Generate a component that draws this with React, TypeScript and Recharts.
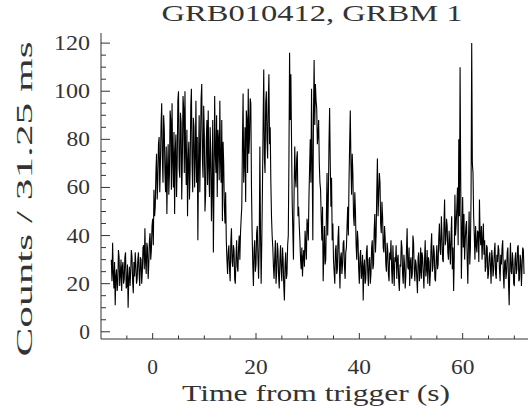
import { Line, LineChart, XAxis, YAxis } from 'recharts';

// GRBM light curve, 0.125 s bins starting at t = -8 s
const START_TIME = -8;
const BIN_WIDTH = 0.125;

const counts: number[] = [
  // -8.0 .. -3.125
  30, 21, 37, 24, 18, 29, 11, 23, 26, 17, 20, 34, 31, 19, 24, 30, 17, 27, 29, 20,
  22, 31, 33, 18, 19, 28, 10, 22, 27, 19, 25, 34, 31, 21, 16, 29, 23, 33, 28, 20,
  // -3.0 .. 1.875
  22, 30, 33, 24, 19, 31, 30, 20, 25, 35, 36, 26, 43, 29, 24, 37, 35, 22, 28, 38,
  41, 30, 34, 44, 47, 36, 59, 48, 52, 66, 74, 55, 63, 78, 81, 58, 70, 86, 95, 72,
  // 2.0 .. 6.875
  62, 90, 84, 66, 58, 77, 49, 68, 78, 57, 66, 92, 88, 59, 95, 71, 60, 83, 49, 75,
  82, 56, 70, 96, 100, 68, 64, 91, 87, 55, 72, 98, 93, 66, 100, 74, 61, 84, 48, 71,
  // 7.0 .. 11.875
  79, 55, 67, 94, 101, 70, 58, 89, 85, 60, 73, 96, 62, 81, 38, 70, 90, 58, 76, 97,
  103, 72, 64, 94, 82, 50, 57, 79, 88, 61, 92, 68, 56, 85, 74, 46, 60, 88, 33, 62,
  // 12.0 .. 16.875
  98, 74, 66, 90, 56, 84, 80, 63, 96, 71, 62, 88, 46, 79, 70, 52, 45, 58, 38, 30,
  24, 33, 36, 26, 21, 37, 43, 29, 27, 36, 34, 22, 20, 31, 38, 27, 25, 35, 40, 30,
  // 17.0 .. 21.875
  41, 47, 52, 78, 99, 62, 70, 85, 54, 92, 88, 66, 101, 74, 81, 97, 95, 60, 41, 28,
  19, 34, 38, 25, 28, 41, 44, 31, 22, 36, 77, 40, 20, 38, 60, 86, 109, 72, 66, 95,
  // 22.0 .. 26.875
  100, 80, 72, 96, 107, 78, 85, 62, 48, 40, 35, 27, 22, 31, 38, 20, 25, 37, 34, 23,
  18, 30, 36, 26, 21, 35, 30, 19, 13, 28, 33, 22, 24, 36, 40, 72, 116, 88, 107, 80,
  // 27.0 .. 31.875
  55, 42, 30, 58, 77, 64, 60, 72, 75, 48, 52, 44, 38, 30, 26, 35, 23, 31, 34, 27,
  42, 36, 30, 47, 44, 38, 56, 68, 80, 62, 101, 70, 38, 90, 113, 86, 103, 96, 93, 78,
  // 32.0 .. 36.875
  82, 88, 70, 62, 59, 47, 38, 52, 21, 33, 44, 28, 30, 48, 66, 40, 55, 78, 93, 70,
  52, 64, 38, 45, 30, 25, 20, 34, 36, 24, 26, 39, 44, 29, 18, 31, 33, 24, 28, 37,
  // 37.0 .. 41.875
  38, 27, 22, 33, 35, 44, 52, 40, 62, 78, 92, 70, 57, 74, 66, 48, 44, 58, 50, 36,
  30, 42, 38, 26, 20, 31, 34, 22, 25, 32, 13, 27, 30, 20, 22, 33, 36, 25, 19, 30,
  // 42.0 .. 46.875
  31, 20, 24, 35, 38, 26, 28, 42, 49, 33, 40, 58, 72, 48, 57, 66, 62, 45, 41, 54,
  48, 35, 33, 44, 39, 28, 25, 37, 34, 24, 21, 33, 30, 38, 26, 20, 36, 27, 19, 31,
  // 47.0 .. 51.875
  29, 36, 22, 30, 32, 21, 17, 28, 27, 38, 35, 24, 20, 32, 28, 18, 23, 34, 43, 27,
  26, 35, 19, 29, 31, 22, 24, 40, 37, 26, 21, 30, 28, 22, 16, 31, 33, 21, 25, 35,
  // 52.0 .. 56.875
  22, 33, 31, 24, 18, 30, 38, 23, 26, 34, 20, 31, 29, 19, 24, 35, 41, 25, 27, 36,
  33, 22, 21, 30, 36, 26, 28, 39, 45, 34, 32, 48, 40, 30, 29, 44, 55, 36, 38, 47,
  // 57.0 .. 61.875
  44, 33, 30, 42, 36, 28, 40, 48, 26, 35, 17, 31, 57, 40, 45, 52, 60, 36, 80, 48,
  110, 62, 22, 40, 56, 35, 49, 30, 38, 44, 46, 30, 20, 38, 50, 28, 35, 56, 120, 70,
  // 62.0 .. 66.875
  66, 48, 40, 30, 44, 36, 33, 42, 41, 29, 55, 40, 36, 44, 30, 38, 45, 32, 38, 25,
  27, 36, 35, 22, 24, 31, 33, 27, 20, 34, 31, 23, 26, 33, 37, 24, 22, 32, 29, 36,
  // 67.0 .. 71.875
  34, 26, 21, 32, 28, 35, 38, 24, 18, 29, 30, 22, 25, 33, 35, 20, 11, 28, 37, 25,
  24, 33, 29, 20, 19, 30, 33, 24, 26, 35, 36, 21, 22, 32, 30, 19, 27, 35, 34, 24,
];

const xTicks = [-5, 0, 5, 10, 15, 20, 25, 30, 35, 40, 45, 50, 55, 60, 65, 70];
const xLabels = [0, 20, 40, 60];
const yTicks = [0, 5, 10, 15, 20, 25, 30, 35, 40, 45, 50, 55, 60, 65, 70, 75, 80, 85, 90, 95, 100, 105, 110, 115, 120];
const yLabels = [0, 20, 40, 60, 80, 100, 120];

const TITLE = 'GRB010412, GRBM 1';
const X_TITLE = 'Time from trigger (s)';
const Y_TITLE = 'Counts / 31.25 ms';

const data = counts.map((c, i) => ({ t: START_TIME + i * BIN_WIDTH, c }));

const FONT = '"Liberation Serif", serif';
const INK = '#333';
const AXIS = '#333';
const DIGIT_W = 12.7;

const W = 545;
const H = 413;
const LEFT = 101;
const TOP = 33;
const BOTTOM = 339;
const RIGHT = 535;

const BottomTick = (props: any) => {
  const { x, payload } = props;
  const major = xLabels.includes(payload.value);
  const label = String(payload.value);
  return (
    <g>
      <line x1={x} x2={x} y1={BOTTOM} y2={BOTTOM - (major ? 6 : 3.5)} stroke={AXIS} />
      {major && (
        <text
          x={x}
          y={374}
          textAnchor='middle'
          fontSize={21}
          fontFamily={FONT}
          fill={INK}
          textLength={label.length * DIGIT_W - 2}
          lengthAdjust='spacingAndGlyphs'
        >
          {label}
        </text>
      )}
    </g>
  );
};

const TopTick = (props: any) => {
  const { x, payload } = props;
  const major = xLabels.includes(payload.value);
  return <line x1={x} x2={x} y1={TOP} y2={TOP + (major ? 6 : 4)} stroke={AXIS} />;
};

const LeftTick = (props: any) => {
  const { y, payload } = props;
  const major = yLabels.includes(payload.value);
  const label = String(payload.value);
  return (
    <g>
      <line x1={LEFT} x2={LEFT + (major ? 9 : 5)} y1={y} y2={y} stroke={AXIS} />
      {major && (
        <text
          x={90}
          y={y + 7}
          textAnchor='end'
          fontSize={21}
          fontFamily={FONT}
          fill={INK}
          textLength={label.length * DIGIT_W - 2}
          lengthAdjust='spacingAndGlyphs'
        >
          {label}
        </text>
      )}
    </g>
  );
};

const RightTick = (props: any) => {
  const { y, payload } = props;
  const major = yLabels.includes(payload.value);
  return <line x1={RIGHT} x2={RIGHT - (major ? 9 : 5)} y1={y} y2={y} stroke={AXIS} />;
};

const App = (): JSX.Element => {
  return (
    <div style={{ position: 'absolute', left: 0, top: 0, width: 528, height: 413, overflow: 'hidden', background: '#fff' }}>
      <LineChart
        width={W}
        height={H}
        data={data}
        margin={{ top: TOP, right: W - RIGHT, bottom: 0, left: 0 }}
      >
        <XAxis
          xAxisId='bottom'
          type='number'
          dataKey='t'
          domain={[-10, 74]}
          allowDataOverflow
          ticks={xTicks}
          interval={0}
          height={H - BOTTOM}
          stroke={AXIS}
          tickLine={false}
          tick={BottomTick}
        />
        <XAxis
          xAxisId='top'
          orientation='top'
          type='number'
          dataKey='t'
          domain={[-10, 74]}
          allowDataOverflow
          ticks={xTicks}
          interval={0}
          height={0}
          stroke={AXIS}
          tickLine={false}
          tick={TopTick}
        />
        <YAxis
          yAxisId='left'
          type='number'
          domain={[-3, 124.2]}
          allowDataOverflow
          ticks={yTicks}
          interval={0}
          width={LEFT}
          stroke={AXIS}
          tickLine={false}
          tick={LeftTick}
        />
        <YAxis
          yAxisId='right'
          orientation='right'
          type='number'
          domain={[-3, 124.2]}
          allowDataOverflow
          ticks={yTicks}
          interval={0}
          width={0}
          stroke={AXIS}
          tickLine={false}
          tick={RightTick}
        />
        <Line
          xAxisId='bottom'
          yAxisId='left'
          type='linear'
          dataKey='c'
          stroke='#000'
          strokeWidth={1.1}
          dot={false}
          isAnimationActive={false}
        />
      </LineChart>
      <svg
        width={528}
        height={413}
        style={{ position: 'absolute', left: 0, top: 0, pointerEvents: 'none' }}
      >
        <text x={312} y={21} textAnchor='middle' fontSize={23} fontFamily={FONT} fill={INK} textLength={301} lengthAdjust='spacingAndGlyphs'>
          {TITLE}
        </text>
        <text x={316} y={401} textAnchor='middle' fontSize={23} fontFamily={FONT} fill={INK} textLength={268} lengthAdjust='spacingAndGlyphs'>
          {X_TITLE}
        </text>
        <text
          transform='translate(32,199) rotate(-90)'
          textAnchor='middle'
          fontSize={24}
          fontFamily={FONT}
          fill={INK}
          textLength={315}
          lengthAdjust='spacingAndGlyphs'
        >
          {Y_TITLE}
        </text>
      </svg>
    </div>
  );
};

export default App;
